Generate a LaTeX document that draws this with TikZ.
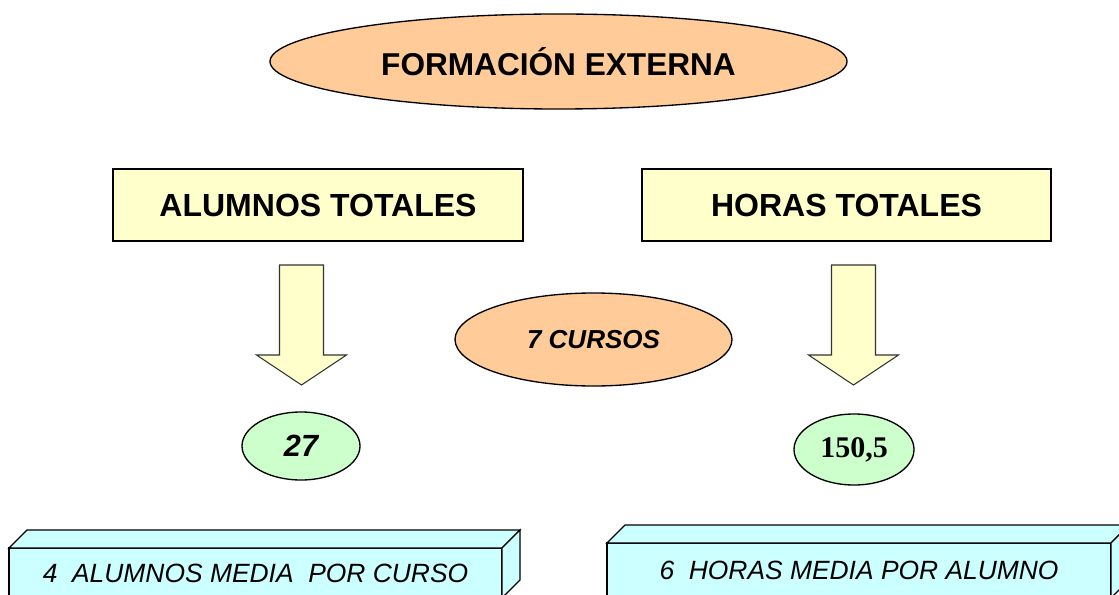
\documentclass[tikz,border=0pt]{standalone}
\usepackage{fontspec}
\setmainfont{Liberation Sans}
\newfontfamily\cifra{Liberation Serif}
\usetikzlibrary{shapes.geometric}

\definecolor{naranja}{HTML}{FFCC99}
\definecolor{crema}{HTML}{FFFFCC}
\definecolor{verdeclaro}{HTML}{CCFFCC}
\definecolor{celeste}{HTML}{CCFFFF}

\tikzset{
    borde/.style={draw=black, line width=1pt, outer sep=0pt},
    globo/.style={borde, ellipse, fill=naranja},
    caja/.style={borde, rectangle, fill=crema, font=\bfseries\fontsize{24}{28}\selectfont},
    dato/.style={borde, ellipse, fill=verdeclaro},
    bloque/.style={borde, rectangle, fill=celeste, font=\itshape\fontsize{19.8}{23}\selectfont},
    flecha/.style={draw=black!80, line width=0.8pt, fill=crema},
    bajada/.pic={\draw[flecha] (-22,0) -- (22,0) -- (22,90) -- (45,90) -- (0,120)
        -- (-45,90) -- (-22,90) -- cycle;}
}

\begin{document}
\begin{tikzpicture}[x=0.75pt, y=-0.75pt]
    \clip (0,0) rectangle (1119,595);
    \node[globo, minimum width=432.75pt, minimum height=71.25pt,
        font=\bfseries\fontsize{23.7}{28}\selectfont] (titulo) at (558.5,61.5) {FORMACIÓN EXTERNA};
    \node[caja, minimum width=307.5pt, minimum height=54pt] (alumnos) at (318,205) {ALUMNOS TOTALES};
    \node[caja, minimum width=306.75pt, minimum height=54pt] (horas) at (846.5,205) {HORAS TOTALES};
    \path (301.5,265) pic {bajada};
    \path (853.5,265) pic {bajada};
    \node[globo, minimum width=207.75pt, minimum height=69.75pt,
        font=\bfseries\itshape\fontsize{19.5}{23}\selectfont] (cursos) at (593.5,339.5) {7 CURSOS};
    \node[dato, minimum width=88.5pt, minimum height=51pt,
        font=\bfseries\itshape\fontsize{23}{27}\selectfont] (n27) at (301,446) {27};
    \node[dato, minimum width=90pt, minimum height=53.25pt,
        font=\cifra\bfseries\fontsize{22.5}{26}\selectfont] (n150) at (854,449.5) {150,5};
    % cajas en relieve
    \node[bloque, minimum width=369.75pt, minimum height=37.5pt] (mediaal) at (255.5,573) {4~~ALUMNOS MEDIA~~POR CURSO};
    \node[bloque, minimum width=378pt, minimum height=41.25pt] (mediahr) at (859,570.5) {6~~HORAS MEDIA POR ALUMNO};
    \foreach \b in {mediaal, mediahr} {
        \draw[borde, fill=celeste] (\b.north west) -- ++(18,-18) -- ([shift={(18,-18)}]\b.north east)
            -- (\b.north east) -- cycle;
        \draw[borde, fill=celeste] (\b.north east) -- ++(18,-18) -- ([shift={(18,-18)}]\b.south east)
            -- (\b.south east) -- cycle;
    }
\end{tikzpicture}
\end{document}
